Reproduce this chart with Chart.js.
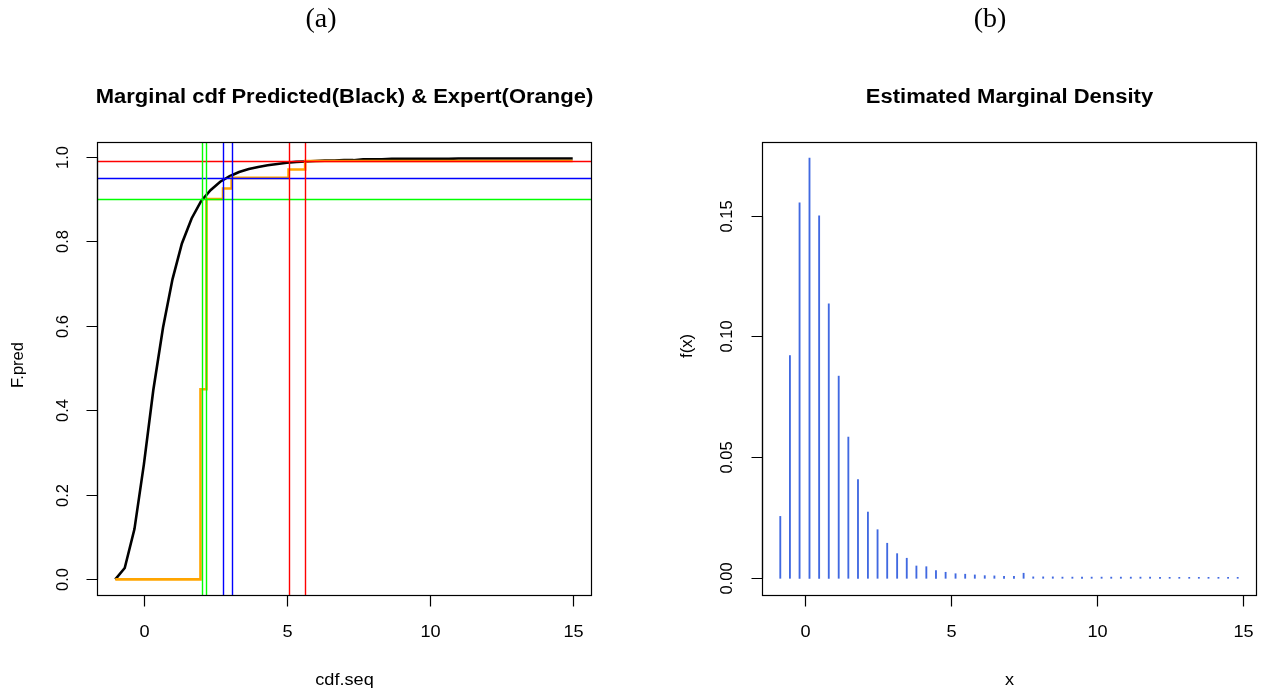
<!DOCTYPE html>
<html>
<head>
<meta charset="utf-8">
<script src="https://cdn.jsdelivr.net/npm/chart.js@4.4.0/dist/chart.umd.min.js"></script>
<style>
  html, body { margin: 0; padding: 0; background: #fff; }
  #wrap { position: relative; width: 1272px; height: 696px; }
  .panel { position: absolute; top: 0; width: 636px; height: 696px; }
</style>
</head>
<body>
<div id="wrap">
  <div class="panel" style="left:0"><canvas id="cdfChart" width="636" height="696"></canvas></div>
  <div class="panel" style="left:636px"><canvas id="densChart" width="636" height="696"></canvas></div>
</div>
<script>
// === Panel (a): predicted cdf on a grid, expert step cdf ===
const cdfSeq = [-1, -0.67, -0.33, 0, 0.33, 0.67, 1, 1.33, 1.67, 2, 2.33, 2.67, 3, 3.33, 3.67, 4,
  4.33, 4.67, 5, 5.33, 5.67, 6, 6.33, 6.67, 7, 7.33, 7.67, 8, 8.33, 8.67, 9, 9.33, 9.67, 10,
  10.33, 10.67, 11, 11.33, 11.67, 12, 12.33, 12.67, 13, 13.33, 13.67, 14, 14.33, 14.67, 15];
const fPred = [0, 0.027, 0.119, 0.272, 0.448, 0.596, 0.710, 0.795, 0.854, 0.895, 0.921, 0.941,
  0.954, 0.964, 0.971, 0.976, 0.980, 0.983, 0.986, 0.988, 0.989, 0.990, 0.991, 0.991, 0.992,
  0.992, 0.994, 0.994, 0.994, 0.995, 0.995, 0.995, 0.995, 0.995, 0.995, 0.995, 0.996, 0.996,
  0.996, 0.996, 0.996, 0.996, 0.996, 0.996, 0.996, 0.996, 0.996, 0.996, 0.996];
const expertX = [-1, 1.98, 2.19, 2.77, 3.07, 5.06, 5.64, 15];
const expertF = [0, 0.45, 0.90, 0.925, 0.95, 0.97, 0.99, 0.99];

// reference levels and the quantile markers (two per level)
const probLevels = [0.90, 0.95, 0.99];
const levelColors = ['#00ff00', '#0000ff', '#ff0000'];
const quantA = [2.02, 2.77, 5.06];
const quantB = [2.19, 3.07, 5.64];

const cdfXTicks = [0, 5, 10, 15];
const cdfYTicks = [0, 0.2, 0.4, 0.6, 0.8, 1.0];
const cdfYLabels = ['0.0', '0.2', '0.4', '0.6', '0.8', '1.0'];

// === Panel (b): estimated marginal density ===
const densX = [-0.83, -0.5, -0.17, 0.17, 0.5, 0.83, 1.17, 1.5, 1.83, 2.17, 2.5, 2.83, 3.17, 3.5,
  3.83, 4.17, 4.5, 4.83, 5.17, 5.5, 5.83, 6.17, 6.5, 6.83, 7.17, 7.5, 7.83, 8.17, 8.5, 8.83,
  9.17, 9.5, 9.83, 10.17, 10.5, 10.83, 11.17, 11.5, 11.83, 12.17, 12.5, 12.83, 13.17, 13.5,
  13.83, 14.17, 14.5, 14.83];
const densY = [0.0256, 0.0921, 0.1552, 0.1737, 0.1499, 0.1135, 0.0836, 0.0584, 0.0408, 0.0274,
  0.0201, 0.0145, 0.0102, 0.0083, 0.0051, 0.0048, 0.0032, 0.0025, 0.0019, 0.0017, 0.0014,
  0.0011, 0.0010, 0.0008, 0.0008, 0.0021, 0.0006, 0.0006, 0.0006, 0.0005, 0.0005, 0.0005,
  0.0005, 0.0005, 0.0005, 0.0005, 0.0005, 0.0005, 0.0005, 0.0004, 0.0004, 0.0004, 0.0004,
  0.0004, 0.0004, 0.0004, 0.0004, 0.0004];

const densXTicks = [0, 5, 10, 15];
const densYTicks = [0, 0.05, 0.10, 0.15];
const densYLabels = ['0.00', '0.05', '0.10', '0.15'];

const SANS = '"Liberation Sans", Arial, Helvetica, sans-serif';
const WIDEN = 1.1; // the source figure is a little stretched sideways

function wideText(ctx, text, x, y, sx) {
  ctx.save();
  ctx.translate(x, y);
  ctx.scale(sx, 1);
  ctx.fillText(text, 0, 0);
  ctx.restore();
}

// draws an R-like frame, axes, labels and (optionally) ablines
function rPanel(cfg) {
  return {
    id: 'rPanel',
    afterDatasetsDraw(chart) {
      if (!cfg.hLines) return;
      const { ctx, chartArea: a, scales: { x, y } } = chart;
      ctx.save();
      ctx.beginPath();
      ctx.rect(a.left, a.top, a.right - a.left, a.bottom - a.top);
      ctx.clip();
      ctx.lineWidth = 1.4;
      cfg.hLines.forEach((v, i) => {
        const py = Math.round(y.getPixelForValue(v)) + 0.5;
        ctx.strokeStyle = cfg.colors[i];
        ctx.beginPath(); ctx.moveTo(a.left, py); ctx.lineTo(a.right, py); ctx.stroke();
      });
      cfg.vLines.forEach(group => {
        group.forEach((v, i) => {
          const px = Math.round(x.getPixelForValue(v)) + 0.5;
          ctx.strokeStyle = cfg.colors[i];
          ctx.beginPath(); ctx.moveTo(px, a.top); ctx.lineTo(px, a.bottom); ctx.stroke();
        });
      });
      ctx.restore();
    },
    afterDraw(chart) {
      const { ctx, chartArea: a, scales: { x, y } } = chart;
      const L = Math.round(a.left) + 0.5, R = Math.round(a.right) + 0.5;
      const T = Math.round(a.top) + 0.5, B = Math.round(a.bottom) + 0.5;
      const tick = 11;
      ctx.save();
      ctx.strokeStyle = '#000';
      ctx.lineWidth = 1.2;
      ctx.strokeRect(L, T, R - L, B - T);

      // x axis
      ctx.beginPath();
      const xs = cfg.xTicks.map(v => Math.round(x.getPixelForValue(v)) + 0.5);
      ctx.moveTo(xs[0], B); ctx.lineTo(xs[xs.length - 1], B);
      xs.forEach(px => { ctx.moveTo(px, B); ctx.lineTo(px, B + tick); });
      // y axis
      const ys = cfg.yTicks.map(v => Math.round(y.getPixelForValue(v)) + 0.5);
      ctx.moveTo(L, ys[0]); ctx.lineTo(L, ys[ys.length - 1]);
      ys.forEach(py => { ctx.moveTo(L, py); ctx.lineTo(L - tick, py); });
      ctx.stroke();

      ctx.fillStyle = '#000';
      ctx.textAlign = 'center';
      ctx.textBaseline = 'middle';
      ctx.font = '16.5px ' + SANS;
      cfg.xTicks.forEach((v, i) => wideText(ctx, String(v), xs[i], 632, WIDEN));
      cfg.yTicks.forEach((v, i) => {
        ctx.save();
        ctx.translate(cfg.yLabX, ys[i]);
        ctx.rotate(-Math.PI / 2);
        ctx.fillText(cfg.yLabels[i], 0, 0);
        ctx.restore();
      });

      // axis titles
      wideText(ctx, cfg.xlab, (L + R) / 2, 680, WIDEN);
      ctx.save();
      ctx.translate(cfg.ylabX, cfg.ylabY);
      ctx.rotate(-Math.PI / 2);
      ctx.fillText(cfg.ylab, 0, 0);
      ctx.restore();

      // main title
      ctx.font = 'bold 20px ' + SANS;
      wideText(ctx, cfg.title, (L + R) / 2, 97, 1.1);

      // panel tag
      ctx.font = '28px "Liberation Serif", "DejaVu Serif", serif';
      ctx.fillText(cfg.tag, cfg.tagX, 20);
      ctx.restore();
    }
  };
}

const hidden = { display: false };

// === Chart (a) ===
new Chart(document.getElementById('cdfChart'), {
  type: 'line',
  data: {
    datasets: [
      {
        label: 'Predicted',
        data: cdfSeq.map((v, i) => ({ x: v, y: fPred[i] })),
        borderColor: '#000000',
        borderWidth: 2.6,
        pointRadius: 0,
        tension: 0,
        order: 2
      },
      {
        label: 'Expert',
        data: expertX.map((v, i) => ({ x: v, y: expertF[i] })),
        borderColor: '#ffa500',
        borderWidth: 2.6,
        pointRadius: 0,
        stepped: 'before',
        order: 1
      }
    ]
  },
  options: {
    responsive: false,
    animation: false,
    events: [],
    layout: { padding: { left: 97, right: 45, top: 142, bottom: 101 } },
    scales: {
      x: { type: 'linear', min: -1.64, max: 15.64, display: false },
      y: { type: 'linear', min: -0.037, max: 1.035, display: false }
    },
    plugins: { legend: hidden, title: hidden, tooltip: { enabled: false } }
  },
  plugins: [rPanel({
    xTicks: cdfXTicks, yTicks: cdfYTicks, yLabels: cdfYLabels, yLabX: 63,
    xlab: 'cdf.seq', ylab: 'F.pred', ylabX: 18, ylabY: 365,
    title: 'Marginal cdf Predicted(Black) & Expert(Orange)',
    tag: '(a)', tagX: 321,
    hLines: probLevels, vLines: [quantA, quantB], colors: levelColors
  })]
});

// === Chart (b) ===
new Chart(document.getElementById('densChart'), {
  type: 'bar',
  data: {
    datasets: [{
      label: 'f(x)',
      data: densX.map((v, i) => ({ x: v, y: densY[i] })),
      backgroundColor: '#4169e1',
      borderWidth: 0,
      barThickness: 1.2,
      grouped: false
    }]
  },
  options: {
    responsive: false,
    animation: false,
    events: [],
    layout: { padding: { left: 126, right: 16, top: 142, bottom: 101 } },
    scales: {
      x: { type: 'linear', offset: false, min: -1.456, max: 15.456, display: false },
      y: { type: 'linear', min: -0.0069, max: 0.1804, display: false }
    },
    plugins: { legend: hidden, title: hidden, tooltip: { enabled: false } }
  },
  plugins: [rPanel({
    xTicks: densXTicks, yTicks: densYTicks, yLabels: densYLabels, yLabX: 91,
    xlab: 'x', ylab: 'f(x)', ylabX: 51, ylabY: 346,
    title: 'Estimated Marginal Density',
    tag: '(b)', tagX: 354
  })]
});
</script>
</body>
</html>
